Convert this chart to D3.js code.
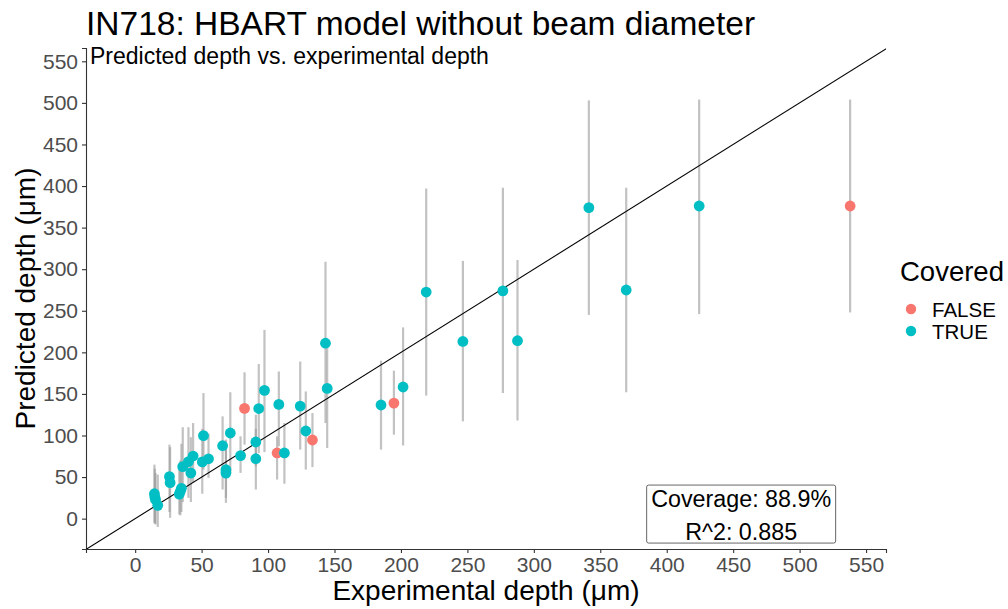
<!DOCTYPE html>
<html>
<head>
<meta charset="utf-8">
<script src="https://cdn.jsdelivr.net/npm/d3@7"></script>
<style>
  body { margin: 0; background: #fff; }
  svg { font-family: "Liberation Sans", Arial, Helvetica, sans-serif; }
</style>
</head>
<body>
<div id="chart"></div>
<script>
// experimental depth (µm), predicted depth, prediction interval, covered flag
const expDepth = [14.5, 15.3, 17, 14.8, 25.8, 26.3, 33.2, 34.8, 35.8, 40.1, 43.6, 41.9, 51.4, 50.5, 55.2,
  65.8, 68.3, 68.3, 71.6, 79.3, 82.3, 90.8, 90.8, 93, 97.3, 106.8, 108.1, 112.3, 124.2, 128.4,
  133.4, 143.2, 144.5, 185, 194.7, 201.6, 219, 246.6, 276.7, 287.7, 341.4, 369.5, 424.4, 538, 34];
const predDepth = [30, 23, 16, 26, 50.5, 43.3, 29.5, 36.5, 62.5, 68.5, 75.3, 54.9, 99.8, 68.2, 72,
  87.7, 58.8, 54.8, 103, 75.8, 132.6, 92.2, 72.1, 132.4, 154.2, 79, 137.4, 79, 135.4, 105.4,
  94.6, 211, 156.6, 136.7, 139, 158.3, 272.5, 213.1, 274, 214, 374, 275, 376, 376, 33];
const lowerPI = [-5, -7, -10, -6, 8, 1, 5, 8, 20, 25, 44, 20, 59, 30, 49,
  35, 25, 19, 55, 55, 89, 63, 35, 79, 80, 47, 87, 42, 83, 59,
  62, 115, 85, 83, 101, 88, 148, 117, 151, 118, 245, 152, 246, 248, 4];
const upperPI = [65, 55, 53, 60, 89, 86, 62, 90, 110, 110, 115, 98, 151, 108, 102,
  123, 95, 83, 152, 99, 176, 125, 108, 186, 227, 99, 177, 115, 189, 153,
  127, 309, 205, 190, 178, 230, 397, 310, 398, 311, 503, 398, 504, 504, 70];
const covered = [true, true, true, true, true, true, true, true, true, true, true, true, true, true, true,
  true, true, true, true, true, false, true, true, true, true, false, true, true, true, true,
  false, true, true, true, false, true, true, true, true, true, true, true, true, false, true];

const ticks = [0, 50, 100, 150, 200, 250, 300, 350, 400, 450, 500, 550];
const coverageText = "Coverage: 88.9%";
const r2Text = "R^2: 0.885";
const groups = ["FALSE", "TRUE"];

const W = 1008, H = 609;
const M = {left: 86, right: 886, top: 48, bottom: 549};

const svg = d3.select("#chart").append("svg")
  .attr("width", W).attr("height", H);

const x = d3.scaleLinear().domain([-37, 565]).range([M.left, M.right]);
const y = d3.scaleLinear().domain([-36.5, 566]).range([M.bottom, M.top]);
const color = d3.scaleOrdinal().domain(groups).range(["#F8766D", "#00BFC4"]);

const data = expDepth.map((e, i) => ({
  e, p: predDepth[i], lo: lowerPI[i], hi: upperPI[i], cov: covered[i] ? "TRUE" : "FALSE"
}));

// title
svg.append("text")
  .attr("x", 86).attr("y", 35)
  .style("font-size", "33.5px")
  .style("fill", "#000")
  .text("IN718: HBART model without beam diameter");

// axes
const xAxis = svg.append("g")
  .attr("transform", `translate(0, ${M.bottom})`)
  .call(d3.axisBottom(x).tickValues(ticks).tickSize(4).tickPadding(4));
const yAxis = svg.append("g")
  .attr("transform", `translate(${M.left}, 0)`)
  .call(d3.axisLeft(y).tickValues(ticks).tickSize(4).tickPadding(4));

[xAxis, yAxis].forEach(a => {
  a.select(".domain").attr("stroke", "#333").attr("stroke-width", 1.1);
  a.selectAll(".tick line").attr("stroke", "#333").attr("stroke-width", 1.1);
  a.selectAll(".tick text")
    .style("font-size", "21px")
    .style("font-family", "'Liberation Sans', Arial, sans-serif")
    .attr("fill", "#4d4d4d");
});

svg.append("text")
  .attr("x", (M.left + M.right) / 2).attr("y", 600)
  .attr("text-anchor", "middle")
  .style("font-size", "28px")
  .text("Experimental depth (μm)");

svg.append("text")
  .attr("transform", `translate(35, ${(M.top + M.bottom) / 2}) rotate(-90)`)
  .attr("text-anchor", "middle")
  .style("font-size", "28px")
  .text("Predicted depth (μm)");

// panel contents, clipped
svg.append("defs").append("clipPath").attr("id", "panel")
  .append("rect")
  .attr("x", M.left).attr("y", M.top)
  .attr("width", M.right - M.left).attr("height", M.bottom - M.top);

const panel = svg.append("g").attr("clip-path", "url(#panel)");

// prediction intervals
panel.append("g").selectAll("line")
  .data(data).join("line")
  .attr("x1", d => x(d.e)).attr("x2", d => x(d.e))
  .attr("y1", d => y(d.lo)).attr("y2", d => y(d.hi))
  .attr("stroke", "#999")
  .attr("stroke-opacity", 0.6)
  .attr("stroke-width", 2.2);

// identity line
panel.append("line")
  .attr("x1", x(-37)).attr("y1", y(-37))
  .attr("x2", x(570)).attr("y2", y(570))
  .attr("stroke", "#000")
  .attr("stroke-width", 1.1);

// points
panel.append("g").selectAll("circle")
  .data(data).join("circle")
  .attr("cx", d => x(d.e)).attr("cy", d => y(d.p))
  .attr("r", 5.4)
  .attr("fill", d => color(d.cov));

// subtitle inside panel
svg.append("text")
  .attr("x", M.left + 4).attr("y", 64)
  .style("font-size", "23px")
  .text("Predicted depth vs. experimental depth");

// coverage label
const lab = svg.append("g")
  .attr("transform", `translate(${x(456)}, ${y(5.5)})`);
lab.append("rect")
  .attr("x", -94.5).attr("y", -29)
  .attr("width", 189).attr("height", 58)
  .attr("rx", 2)
  .attr("fill", "#fff")
  .attr("stroke", "#555")
  .attr("stroke-width", 0.9);
lab.append("text")
  .attr("y", -7.5).attr("text-anchor", "middle")
  .style("font-size", "23.3px")
  .text(coverageText);
lab.append("text")
  .attr("y", 26).attr("text-anchor", "middle")
  .style("font-size", "23.3px")
  .text(r2Text);

// legend
const leg = svg.append("g").attr("transform", "translate(900, 0)");
leg.append("text")
  .attr("x", 0).attr("y", 281)
  .style("font-size", "27.5px")
  .text("Covered");
groups.forEach((g, i) => {
  leg.append("circle")
    .attr("cx", 11).attr("cy", 309 + i * 22)
    .attr("r", 5.2)
    .attr("fill", color(g));
  leg.append("text")
    .attr("x", 32).attr("y", 316.5 + i * 22)
    .style("font-size", "20.5px")
    .text(g);
});
</script>
</body>
</html>
